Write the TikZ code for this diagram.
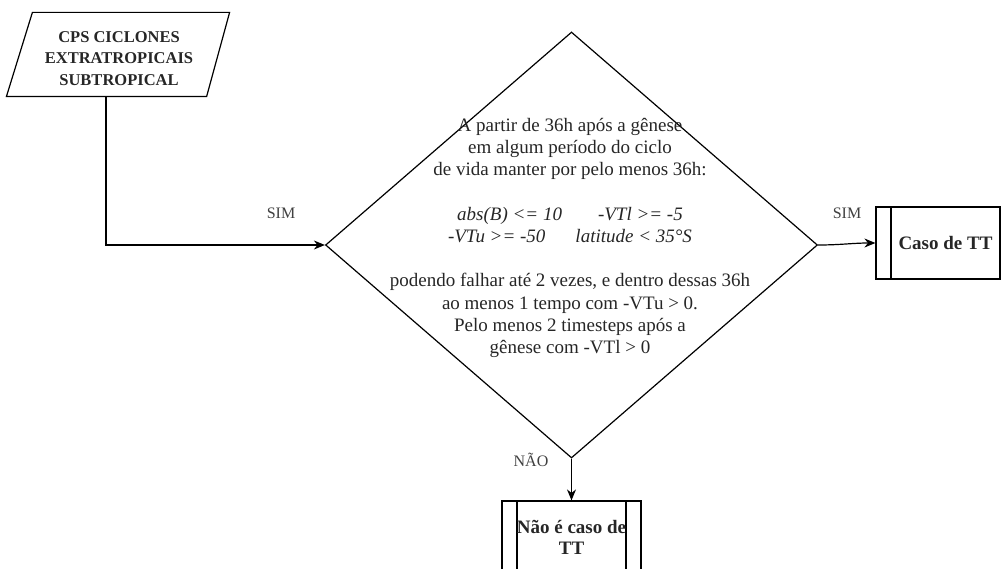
\documentclass[tikz,border=0pt]{standalone}
\usepackage{fontspec}
\setmainfont{Liberation Serif}
\usetikzlibrary{shapes.geometric, arrows.meta, positioning, calc}

\begin{document}
\begin{tikzpicture}[x=1pt, y=-1pt, line width=1.2pt,
    >={Stealth[length=11pt,width=9pt]},
    every node/.style={text=black!85},
    inbox/.style={rectangle, minimum width=199pt, minimum height=83pt, inner sep=0pt,
        align=center, font=\bfseries\fontsize{16.5}{21.5}\selectfont},
    decisao/.style={draw, diamond, minimum width=492pt, minimum height=426pt, inner sep=0pt},
    procbox/.style={draw, rectangle, minimum width=139pt, minimum height=72pt, inner sep=0pt,
        align=center, font=\bfseries\fontsize{19}{21}\selectfont,
        path picture={\draw[line width=1.2pt]
            ([xshift=15pt]path picture bounding box.north west) -- ([xshift=15pt]path picture bounding box.south west)
            ([xshift=-15pt]path picture bounding box.north east) -- ([xshift=-15pt]path picture bounding box.south east);}},
    lbl/.style={font=\fontsize{16}{19}\selectfont, text=black!75}]
    \clip (0,0) rectangle (1001,569);

    % start
    \node[inbox] (cps) at (119,54.5) {};
    \draw ($(cps.south west)+(-12.5,0)$) -- ($(cps.north west)+(13.5,0)$)
        -- ($(cps.north east)+(10.5,0)$) -- ($(cps.south east)+(-12.5,0)$) -- cycle;
    \node[inbox, minimum height=0pt] (cpstxt) at (119,58.5) {CPS CICLONES\\EXTRATROPICAIS\\SUBTROPICAL};

    % criterion
    \node[decisao] (crit) at (571.5,245) {};
    \node[align=center, font=\fontsize{19}{22.2}\selectfont] (crittxt) at (570,238)
        {A partir de 36h após a gênese\\
         em algum período do ciclo\\
         de vida manter por pelo menos 36h:\\[22.2pt]
         \textit{abs(B) <= 10\hspace{36pt}-VTl >= -5}\\
         \textit{-VTu >= -50\hspace{30pt}latitude < 35°S}\\[22.2pt]
         podendo falhar até 2 vezes, e dentro dessas 36h\\
         ao menos 1 tempo com -VTu > 0.\\
         Pelo menos 2 timesteps após a\\
         gênese com -VTl > 0};

    % outcomes
    \node[procbox] (caso) at (945.5,243) {Caso de TT};
    \node[procbox] (naocaso) at (571.5,537) {Não é caso de\\TT};

    % arrows
    \coordinate (bend) at (106,245);
    \draw[->] (cps.south -| bend) -- (bend) -- (crit.west);
    \draw[->] (crit.east) to[out=0,in=180] (caso.west);
    \draw[->] (crit.south) -- (naocaso.north);

    % labels
    \node[lbl] (simA) at (281,213) {SIM};
    \node[lbl] (simB) at (847,213) {SIM};
    \node[lbl] (nao) at (531,460) {NÃO};
\end{tikzpicture}
\end{document}
